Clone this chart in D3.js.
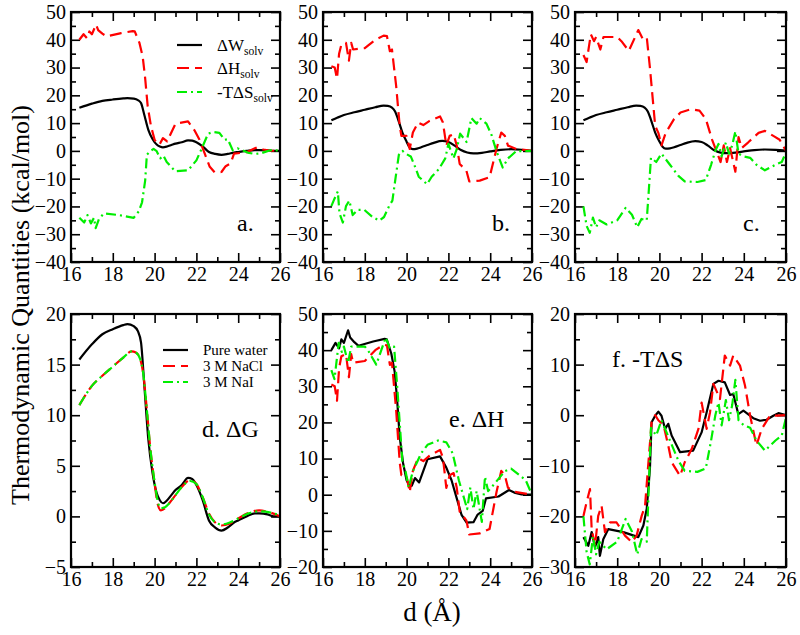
<!DOCTYPE html>
<html><head><meta charset="utf-8">
<script src="https://cdn.jsdelivr.net/npm/d3@7"></script>
<style>body{margin:0;background:#fff}svg{display:block}text{font-family:"Liberation Serif","Times New Roman",serif;fill:#000}</style>
</head><body><svg id="c" width="800" height="635"></svg>
<script>
// ---------- DATA ----------
const xTicks = [16,18,20,22,24,26];
const yTicksTop = [-40,-30,-20,-10,0,10,20,30,40,50];
const yTicksD = [-5,0,5,10,15,20];
const yTicksE = [-20,-10,0,10,20,30,40,50];
const yTicksF = [-30,-20,-10,0,10,20];

// Free energy (ΔG / ΔW_solv)
const G_water = [[16.4,15.5],[17,17],[17.5,18],[18,18.5],[18.5,18.9],[18.7,19],[19,18.8],[19.2,18.3],[19.35,17.2],[19.5,13.2],[19.7,7.6],[19.9,4.3],[20.1,2.3],[20.25,1.6],[20.4,1.3],[20.6,1.6],[20.8,2.1],[21,2.6],[21.3,3.1],[21.6,3.8],[21.8,3.7],[22,3.1],[22.3,1.6],[22.6,-0.4],[22.9,-1.1],[23.2,-1.4],[23.5,-1.1],[23.8,-0.6],[24,-0.4],[24.4,0],[24.8,0.3],[25,0.3],[25.4,0.2],[25.7,0],[26,0]];
const G_NaCl = [[16.4,11],[16.7,12],[17,12.9],[17.5,13.9],[18,14.8],[18.5,15.7],[18.9,16.3],[19.1,16.2],[19.3,15.6],[19.45,14.2],[19.6,11.2],[19.8,6.6],[20,3.3],[20.15,1.2],[20.3,0.6],[20.5,0.8],[20.7,1.3],[21,2.1],[21.3,2.9],[21.7,3.6],[22,3.2],[22.3,1.9],[22.6,0.3],[22.9,-0.6],[23.2,-0.9],[23.6,-0.7],[24,-0.2],[24.5,0.35],[25,0.6],[25.5,0.4],[26,0]];
const G_NaI = [[16.4,11],[16.7,12],[17,12.9],[17.5,13.9],[18,14.8],[18.5,15.7],[18.9,16.3],[19.1,16.2],[19.3,15.6],[19.45,14.2],[19.6,11.2],[19.8,6.6],[20,3.4],[20.15,1.5],[20.3,0.8],[20.5,0.9],[20.7,1.3],[21,2.1],[21.3,2.9],[21.7,3.5],[22,3.2],[22.3,1.9],[22.6,0.2],[22.9,-0.6],[23.2,-0.8],[23.6,-0.6],[24,-0.2],[24.5,0.3],[25,0.5],[25.5,0.4],[26,0.1]];

// Enthalpy (ΔH)
const H_water = [[16.4,40],[16.6,42],[16.77,40.5],[16.88,43],[17.0,42],[17.2,45.5],[17.3,43.5],[17.5,42.2],[17.7,41.2],[18.4,42.4],[18.95,43.1],[19.05,43],[19.27,39],[19.43,34],[19.55,26],[19.67,16],[19.83,8.8],[20.0,4],[20.15,2.3],[20.25,2.5],[20.4,4.6],[20.6,3.4],[21.0,9.8],[21.6,10.6],[21.9,7.5],[22.15,4],[22.4,-1],[22.63,-5.6],[22.87,-7.7],[23.2,-7.6],[23.4,-5.5],[23.64,-4.5],[23.8,-1],[24.4,-0.5],[24.9,1.3],[25.2,0.5],[25.5,0.1],[26,0]];
const H_NaCl = [[16.4,30.5],[16.56,30],[16.67,26],[16.77,35],[16.88,38.3],[17.1,38.9],[17.24,32.5],[17.35,38.9],[17.44,36.5],[18.0,37],[18.5,40],[18.9,41.5],[19.06,41.3],[19.2,35.9],[19.3,36.5],[19.5,23.4],[19.67,9],[19.75,5.4],[19.99,5.4],[20.15,0.7],[20.3,6.6],[20.55,10.2],[20.8,9.3],[21.1,10.8],[21.6,12.4],[21.74,10.2],[21.9,1.9],[22.06,5.4],[22.25,6],[22.4,1.9],[22.54,-4.7],[22.86,-7.1],[23.0,-11],[23.5,-10.7],[23.97,-9.5],[24.3,0.7],[24.53,6.6],[24.7,5.4],[24.85,1.9],[25.25,0.7],[26,0]];
const H_NaI = [[16.4,34.5],[16.55,32],[16.75,42],[16.9,39.5],[17.0,41],[17.2,36.5],[17.35,41],[18.0,41],[18.2,39.5],[18.55,36],[19.0,43.5],[19.2,40.5],[19.4,41],[19.55,30],[19.8,9],[19.95,6.5],[20.1,2],[20.3,6.5],[20.7,11.5],[21.0,13.8],[21.5,15],[21.9,14.5],[22.2,11.5],[22.5,4],[22.7,0],[22.9,-4],[23.05,2],[23.2,-4],[23.35,1],[23.6,-7.5],[23.75,5],[23.9,1],[24.2,3],[24.7,6.5],[25.0,7.2],[25.4,5.4],[25.7,4],[26,0]];

// Entropy (-TΔS)
const S_water = [[16.4,-24.1],[16.63,-25.8],[16.79,-23.1],[16.95,-26.1],[17.1,-24.1],[17.18,-27.8],[17.34,-24.5],[17.58,-22.5],[18.29,-23.1],[19.0,-24.1],[19.24,-21.8],[19.4,-18.5],[19.55,-10.6],[19.63,-1.4],[19.8,-0.1],[19.95,0.7],[20.1,-0.1],[20.27,-2.7],[20.42,-1.7],[20.58,-4],[20.98,-7.3],[21.6,-7],[22.0,-3.4],[22.24,0.6],[22.56,6.2],[22.8,6.8],[23.1,6.5],[23.35,4],[23.5,4.2],[23.74,0.2],[23.98,0.9],[24.45,-0.6],[24.77,-1.1],[25.08,-0.9],[25.4,-0.1],[25.64,0.4],[26,0]];
const S_NaCl = [[16.4,-19.9],[16.55,-17.2],[16.71,-14.6],[16.79,-22.5],[16.95,-25.8],[17.1,-19.9],[17.26,-17.9],[17.42,-23.1],[17.66,-21.2],[17.97,-21.2],[18.37,-23.8],[18.69,-25.1],[18.92,-23.8],[19.16,-19.9],[19.32,-17.9],[19.48,-9.3],[19.63,-1.4],[19.8,0],[19.95,-1],[20.2,-2],[20.42,-6],[20.58,-9.3],[20.98,-12],[21.2,-9.3],[21.53,-6.7],[21.85,-2.7],[22.0,2.5],[22.24,-2.7],[22.4,0.6],[22.56,6.2],[22.87,3.2],[23.1,11.8],[23.35,9.8],[23.5,11.8],[23.82,9.8],[24.06,5.8],[24.3,-0.1],[24.6,-6],[24.85,-2.7],[25.24,-0.1],[25.56,-0.1],[26,0]];
const S_NaI = [[16.4,-20],[16.55,-27],[16.7,-29.5],[16.85,-24],[17.0,-27.5],[17.15,-25],[17.5,-26.5],[18.0,-25],[18.4,-20.5],[18.7,-23],[18.95,-27.5],[19.15,-24.5],[19.4,-25],[19.5,-14],[19.6,-2.5],[19.85,-4],[20.1,-1],[20.5,-5],[20.9,-9],[21.2,-11],[21.8,-11.2],[22.2,-10.5],[22.45,-5],[22.65,0],[22.8,2.5],[22.95,-2],[23.15,3],[23.3,-1],[23.45,2],[23.6,7],[23.75,-1],[24.0,-2],[24.3,-2.5],[24.6,-5],[25.0,-7],[25.5,-5],[25.8,-4],[26,-0.5]];

const legendTop = ["ΔW|solv","ΔH|solv","-TΔS|solv"];
const legendBottom = ["Pure water","3 M NaCl","3 M NaI"];

// ---------- STYLE / LAYOUT ----------
const styles = [
  {color:"#000000", dash:null},
  {color:"#ff0000", dash:"12,6"},
  {color:"#00ee00", dash:"10,4,2,4"}
];
const cols = [[71,280],[323,532],[575,786]];
const rows = [[12,262],[314,567]];

const panels = [
  {c:0,r:0,yd:[-40,50],ticks:yTicksTop,minor:5,series:[G_water,H_water,S_water],smooth:[true,false,false],label:"a.",lx:237,ly:231},
  {c:1,r:0,yd:[-40,50],ticks:yTicksTop,minor:5,series:[G_NaCl,H_NaCl,S_NaCl],smooth:[true,false,false],label:"b.",lx:492,ly:231},
  {c:2,r:0,yd:[-40,50],ticks:yTicksTop,minor:5,series:[G_NaI,H_NaI,S_NaI],smooth:[true,false,false],label:"c.",lx:743,ly:231},
  {c:0,r:1,yd:[-5,20],ticks:yTicksD,minor:2.5,series:[G_water,G_NaCl,G_NaI],smooth:[true,true,true],label:"d. ΔG",lx:202,ly:437},
  {c:1,r:1,yd:[-20,50],ticks:yTicksE,minor:5,series:[H_water,H_NaCl,H_NaI],smooth:[false,false,false],label:"e. ΔH",lx:449,ly:427},
  {c:2,r:1,yd:[-30,20],ticks:yTicksF,minor:5,series:[S_water,S_NaCl,S_NaI],smooth:[false,false,false],label:"f. -TΔS",lx:612,ly:367}
];

const svg = d3.select("#c");
const defs = svg.append("defs");
const FONT = '"Liberation Serif","Times New Roman",Times,serif';

panels.forEach((p,i)=>{
  const [x0,x1] = cols[p.c], [y0,y1] = rows[p.r];
  const x = d3.scaleLinear().domain([16,26]).range([x0,x1]);
  const y = d3.scaleLinear().domain(p.yd).range([y1,y0]);
  const g = svg.append("g");
  defs.append("clipPath").attr("id","cp"+i).append("rect")
    .attr("x",x0).attr("y",y0).attr("width",x1-x0).attr("height",y1-y0);

  const xMinor = d3.range(16,26.001,1).filter(v=>!xTicks.includes(v));
  const yMinor = d3.range(p.yd[0],p.yd[1]+0.001,p.minor).filter(v=>!p.ticks.some(t=>Math.abs(t-v)<1e-6));

  g.append("g").attr("transform",`translate(0,${y1})`)
    .call(d3.axisBottom(x).tickValues(xTicks).tickSizeInner(-9).tickSizeOuter(0).tickPadding(5).tickFormat(d3.format("d")));
  g.append("g").attr("transform",`translate(0,${y1})`)
    .call(d3.axisBottom(x).tickValues(xMinor).tickSizeInner(-5).tickSizeOuter(0).tickFormat(""));
  g.append("g").attr("transform",`translate(0,${y0})`)
    .call(d3.axisTop(x).tickValues(xTicks).tickSizeInner(-9).tickSizeOuter(0).tickFormat(""));
  g.append("g").attr("transform",`translate(0,${y0})`)
    .call(d3.axisTop(x).tickValues(xMinor).tickSizeInner(-5).tickSizeOuter(0).tickFormat(""));
  g.append("g").attr("transform",`translate(${x0},0)`)
    .call(d3.axisLeft(y).tickValues(p.ticks).tickSizeInner(-9).tickSizeOuter(0).tickPadding(5).tickFormat(d3.format("d")));
  g.append("g").attr("transform",`translate(${x0},0)`)
    .call(d3.axisLeft(y).tickValues(yMinor).tickSizeInner(-5).tickSizeOuter(0).tickFormat(""));
  g.append("g").attr("transform",`translate(${x1},0)`)
    .call(d3.axisRight(y).tickValues(p.ticks).tickSizeInner(-9).tickSizeOuter(0).tickFormat(""));
  g.append("g").attr("transform",`translate(${x1},0)`)
    .call(d3.axisRight(y).tickValues(yMinor).tickSizeInner(-5).tickSizeOuter(0).tickFormat(""));
  g.selectAll("g").attr("font-family",FONT);
  g.selectAll(".domain").remove();
  g.selectAll(".tick line").attr("stroke","#000").attr("stroke-width",1.6);
  g.selectAll(".tick text").style("font-family",FONT).style("font-size","20px").attr("fill","#000");

  const lg = g.append("g").attr("clip-path",`url(#cp${i})`);
  p.series.forEach((s,k)=>{
    const line = d3.line().x(d=>x(d[0])).y(d=>y(d[1])).curve(p.smooth[k]?d3.curveMonotoneX:d3.curveLinear);
    lg.append("path").datum(s).attr("d",line).attr("fill","none")
      .attr("stroke",styles[k].color).attr("stroke-width",2.2)
      .attr("stroke-dasharray",styles[k].dash).attr("stroke-linejoin","round");
  });

  g.append("rect").attr("x",x0).attr("y",y0).attr("width",x1-x0).attr("height",y1-y0)
    .attr("fill","none").attr("stroke","#000").attr("stroke-width",2.2);

  g.append("text").attr("x",p.lx).attr("y",p.ly).style("font-family",FONT).style("font-size","24px").text(p.label);
});

function legend(items,lx0,lx1,tx,ys,fs,sub){
  items.forEach((it,k)=>{
    svg.append("line").attr("x1",lx0).attr("x2",lx1).attr("y1",ys[k]).attr("y2",ys[k])
      .attr("stroke",styles[k].color).attr("stroke-width",2.2).attr("stroke-dasharray",styles[k].dash);
    const t = svg.append("text").attr("x",tx).attr("y",ys[k]+fs*0.33).style("font-family",FONT).style("font-size",fs+"px");
    if(sub){
      const [main,s] = it.split("|");
      t.append("tspan").text(main);
      t.append("tspan").attr("dy",4).style("font-size",(fs*0.68)+"px").text(s);
    } else t.text(it);
  });
}
legend(legendTop,177,202,217,[45,68,92],17,true);
legend(legendBottom,163,188,203,[350,366,382],15,false);

svg.append("text").attr("transform","translate(29,305) rotate(-90)").attr("text-anchor","middle")
  .style("font-family",FONT).style("font-size","26px").text("Thermodynamic Quantities (kcal/mol)");
svg.append("text").attr("x",432).attr("y",621).attr("text-anchor","middle").style("font-family",FONT).style("font-size","27px").text("d (Å)");
</script></body></html>
